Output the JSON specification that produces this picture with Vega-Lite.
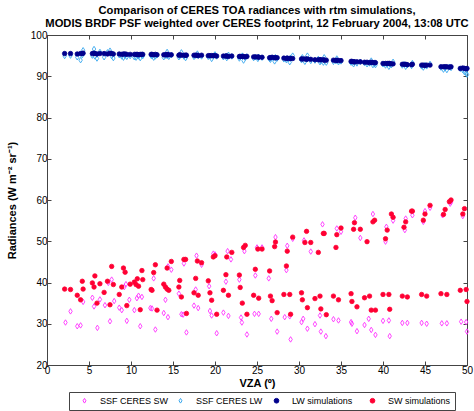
{
"$schema": "https://vega.github.io/schema/vega-lite/v6.json",
"width": 420, "height": 330,
"autosize": {"type": "none"},
"padding": {"left": 47, "top": 35, "right": 7, "bottom": 46},
"title": {"text": ["Comparison of CERES TOA radiances with rtm simulations,", "MODIS BRDF PSF weighted over CERES footprint, 12 February 2004, 13:08 UTC"], "font": "Liberation Sans", "fontSize": 11.2, "fontWeight": "bold", "anchor": "middle", "offset": 1, "lineHeight": 13, "color": "black"},
"config": {"view": {"stroke": "#444", "strokeWidth": 1}, "font": "Liberation Sans",
"legend": {"orient": "none", "legendX": 22, "legendY": 357, "direction": "horizontal", "columns": 4, "title": null, "strokeColor": "#444", "padding": 4, "labelFontSize": 9, "labelFont": "Liberation Sans", "labelColor": "black", "symbolSize": 22, "symbolOffset": 7, "labelOffset": 11, "columnPadding": 0, "gridAlign": "all", "symbolStrokeWidth": 1}},
"data": {"values": [
{"s":"a","x":2.2,"y":30.3},{"s":"a","x":2.8,"y":33.0},{"s":"a","x":3.6,"y":29.4},{"s":"a","x":4.0,"y":29.6},{"s":"a","x":4.3,"y":35.3},{"s":"a","x":5.4,"y":36.3},{"s":"a","x":5.6,"y":34.2},{"s":"a","x":6.0,"y":29.0},{"s":"a","x":6.3,"y":35.9},{"s":"a","x":6.9,"y":34.5},{"s":"a","x":7.3,"y":39.9},{"s":"a","x":7.5,"y":30.6},{"s":"a","x":7.7,"y":40.7},{"s":"a","x":8.0,"y":35.5},{"s":"a","x":8.6,"y":33.9},{"s":"a","x":8.9,"y":33.3},{"s":"a","x":9.2,"y":38.9},{"s":"a","x":9.4,"y":39.6},{"s":"a","x":9.5,"y":30.7},{"s":"a","x":9.8,"y":35.8},{"s":"a","x":10.4,"y":33.3},{"s":"a","x":10.7,"y":36.2},{"s":"a","x":10.9,"y":36.8},{"s":"a","x":11.1,"y":29.4},{"s":"a","x":11.3,"y":36.5},{"s":"a","x":12.3,"y":33.8},{"s":"a","x":12.5,"y":33.7},{"s":"a","x":12.7,"y":41.0},{"s":"a","x":12.9,"y":28.6},{"s":"a","x":13.9,"y":32.6},{"s":"a","x":14.1,"y":35.8},{"s":"a","x":14.4,"y":43.9},{"s":"a","x":14.4,"y":31.6},{"s":"a","x":14.8,"y":43.1},{"s":"a","x":15.7,"y":37.3},{"s":"a","x":16.0,"y":32.3},{"s":"a","x":16.2,"y":32.2},{"s":"a","x":16.3,"y":44.6},{"s":"a","x":16.6,"y":27.9},{"s":"a","x":17.5,"y":34.4},{"s":"a","x":17.7,"y":38.3},{"s":"a","x":17.8,"y":46.5},{"s":"a","x":18.0,"y":33.8},{"s":"a","x":18.4,"y":44.3},{"s":"a","x":19.3,"y":39.1},{"s":"a","x":19.4,"y":33.1},{"s":"a","x":19.6,"y":32.0},{"s":"a","x":19.8,"y":47.0},{"s":"a","x":20.0,"y":46.8},{"s":"a","x":20.2,"y":27.7},{"s":"a","x":21.0,"y":32.7},{"s":"a","x":21.3,"y":40.2},{"s":"a","x":21.5,"y":47.6},{"s":"a","x":21.6,"y":31.9},{"s":"a","x":21.9,"y":45.6},{"s":"a","x":22.9,"y":40.7},{"s":"a","x":23.1,"y":31.5},{"s":"a","x":23.2,"y":30.3},{"s":"a","x":23.5,"y":47.6},{"s":"a","x":23.8,"y":27.4},{"s":"a","x":24.7,"y":32.4},{"s":"a","x":24.8,"y":41.7},{"s":"a","x":25.0,"y":48.5},{"s":"a","x":25.2,"y":32.4},{"s":"a","x":25.6,"y":48.5},{"s":"a","x":26.4,"y":41.0},{"s":"a","x":26.7,"y":31.2},{"s":"a","x":27.2,"y":51.0},{"s":"a","x":27.4,"y":28.1},{"s":"a","x":28.3,"y":31.6},{"s":"a","x":28.5,"y":43.0},{"s":"a","x":28.6,"y":48.9},{"s":"a","x":28.9,"y":31.8},{"s":"a","x":29.0,"y":26.2},{"s":"a","x":29.25,"y":50.6},{"s":"a","x":30.3,"y":30.4},{"s":"a","x":30.5,"y":31.2},{"s":"a","x":30.6,"y":50.2},{"s":"a","x":31.0,"y":28.8},{"s":"a","x":31.4,"y":47.5},{"s":"a","x":31.9,"y":29.9},{"s":"a","x":32.5,"y":32.0},{"s":"a","x":32.6,"y":28.1},{"s":"a","x":32.8,"y":54.1},{"s":"a","x":33.2,"y":27.0},{"s":"a","x":34.1,"y":31.1},{"s":"a","x":34.5,"y":53.1},{"s":"a","x":34.7,"y":30.8},{"s":"a","x":35.0,"y":52.3},{"s":"a","x":36.2,"y":30.4},{"s":"a","x":36.3,"y":30.0},{"s":"a","x":36.7,"y":55.7},{"s":"a","x":36.9,"y":28.2},{"s":"a","x":37.3,"y":50.8},{"s":"a","x":37.8,"y":29.7},{"s":"a","x":38.3,"y":31.2},{"s":"a","x":38.6,"y":28.5},{"s":"a","x":38.8,"y":56.6},{"s":"a","x":39.1,"y":27.3},{"s":"a","x":40.0,"y":30.7},{"s":"a","x":40.3,"y":49.9},{"s":"a","x":40.4,"y":53.5},{"s":"a","x":40.7,"y":30.8},{"s":"a","x":40.8,"y":27.0},{"s":"a","x":41.2,"y":55.0},{"s":"a","x":42.3,"y":30.2},{"s":"a","x":42.6,"y":52.7},{"s":"a","x":42.7,"y":55.5},{"s":"a","x":42.9,"y":30.2},{"s":"a","x":43.5,"y":56.3},{"s":"a","x":44.6,"y":30.2},{"s":"a","x":44.8,"y":54.7},{"s":"a","x":45.0,"y":57.3},{"s":"a","x":45.2,"y":30.0},{"s":"a","x":45.6,"y":58.1},{"s":"a","x":47.0,"y":30.1},{"s":"a","x":47.1,"y":56.3},{"s":"a","x":47.6,"y":30.1},{"s":"a","x":48.0,"y":59.1},{"s":"a","x":48.1,"y":59.5},{"s":"a","x":49.3,"y":30.5},{"s":"a","x":49.5,"y":56.1},{"s":"a","x":49.9,"y":30.4},{"s":"a","x":50.0,"y":28.1},
{"s":"b","x":2.1,"y":94.9},{"s":"b","x":2.8,"y":95.0},{"s":"b","x":3.6,"y":94.6},{"s":"b","x":4.0,"y":93.9},{"s":"b","x":4.2,"y":95.1},{"s":"b","x":4.3,"y":96.3},{"s":"b","x":5.4,"y":95.0},{"s":"b","x":5.6,"y":96.6},{"s":"b","x":5.7,"y":94.8},{"s":"b","x":5.95,"y":94.3},{"s":"b","x":6.3,"y":95.9},{"s":"b","x":6.8,"y":94.6},{"s":"b","x":7.2,"y":95.8},{"s":"b","x":7.5,"y":96.2},{"s":"b","x":7.7,"y":94.9},{"s":"b","x":7.9,"y":94.4},{"s":"b","x":8.6,"y":95.1},{"s":"b","x":8.9,"y":94.8},{"s":"b","x":9.1,"y":94.5},{"s":"b","x":9.3,"y":95.0},{"s":"b","x":9.5,"y":94.7},{"s":"b","x":9.9,"y":94.9},{"s":"b","x":10.4,"y":94.6},{"s":"b","x":10.6,"y":94.5},{"s":"b","x":10.75,"y":95.0},{"s":"b","x":10.9,"y":94.8},{"s":"b","x":11.1,"y":94.4},{"s":"b","x":11.3,"y":95.1},{"s":"b","x":11.4,"y":94.9},{"s":"b","x":12.4,"y":95.0},{"s":"b","x":12.5,"y":94.9},{"s":"b","x":12.7,"y":94.5},{"s":"b","x":12.9,"y":94.8},{"s":"b","x":13.1,"y":95.1},{"s":"b","x":13.9,"y":94.6},{"s":"b","x":14.1,"y":95.0},{"s":"b","x":14.3,"y":95.9},{"s":"b","x":14.3,"y":94.9},{"s":"b","x":14.5,"y":94.7},{"s":"b","x":14.8,"y":95.1},{"s":"b","x":15.7,"y":94.6},{"s":"b","x":15.8,"y":94.9},{"s":"b","x":16.0,"y":95.8},{"s":"b","x":16.3,"y":94.8},{"s":"b","x":16.5,"y":94.4},{"s":"b","x":16.6,"y":95.0},{"s":"b","x":17.5,"y":94.7},{"s":"b","x":17.7,"y":95.0},{"s":"b","x":17.9,"y":95.5},{"s":"b","x":18.0,"y":94.9},{"s":"b","x":18.4,"y":94.8},{"s":"b","x":19.2,"y":94.7},{"s":"b","x":19.4,"y":94.9},{"s":"b","x":19.6,"y":94.2},{"s":"b","x":19.8,"y":94.9},{"s":"b","x":20.0,"y":95.3},{"s":"b","x":20.2,"y":94.8},{"s":"b","x":21.0,"y":94.6},{"s":"b","x":21.3,"y":94.9},{"s":"b","x":21.4,"y":94.4},{"s":"b","x":21.6,"y":95.2},{"s":"b","x":22.0,"y":94.8},{"s":"b","x":22.9,"y":94.3},{"s":"b","x":23.0,"y":94.6},{"s":"b","x":23.25,"y":95.0},{"s":"b","x":23.4,"y":93.8},{"s":"b","x":23.6,"y":94.5},{"s":"b","x":23.8,"y":94.8},{"s":"b","x":24.6,"y":94.4},{"s":"b","x":24.8,"y":94.6},{"s":"b","x":25.1,"y":94.2},{"s":"b","x":25.2,"y":94.7},{"s":"b","x":25.6,"y":94.5},{"s":"b","x":26.5,"y":94.2},{"s":"b","x":26.6,"y":94.0},{"s":"b","x":26.8,"y":94.5},{"s":"b","x":27.1,"y":93.6},{"s":"b","x":27.2,"y":94.6},{"s":"b","x":27.4,"y":94.3},{"s":"b","x":28.2,"y":94.1},{"s":"b","x":28.5,"y":93.9},{"s":"b","x":28.6,"y":94.3},{"s":"b","x":28.9,"y":93.4},{"s":"b","x":29.0,"y":94.5},{"s":"b","x":29.25,"y":95.0},{"s":"b","x":30.3,"y":93.9},{"s":"b","x":30.4,"y":94.6},{"s":"b","x":30.7,"y":93.5},{"s":"b","x":30.9,"y":94.1},{"s":"b","x":31.0,"y":95.0},{"s":"b","x":31.4,"y":93.7},{"s":"b","x":31.9,"y":93.8},{"s":"b","x":32.3,"y":94.2},{"s":"b","x":32.5,"y":93.4},{"s":"b","x":32.6,"y":93.7},{"s":"b","x":32.9,"y":93.3},{"s":"b","x":33.0,"y":94.6},{"s":"b","x":33.25,"y":93.3},{"s":"b","x":34.1,"y":93.5},{"s":"b","x":34.4,"y":93.7},{"s":"b","x":34.5,"y":94.3},{"s":"b","x":34.7,"y":93.4},{"s":"b","x":35.0,"y":93.6},{"s":"b","x":36.2,"y":93.3},{"s":"b","x":36.3,"y":93.5},{"s":"b","x":36.5,"y":92.9},{"s":"b","x":36.6,"y":93.4},{"s":"b","x":36.9,"y":93.1},{"s":"b","x":37.3,"y":93.5},{"s":"b","x":37.8,"y":93.2},{"s":"b","x":38.1,"y":92.9},{"s":"b","x":38.4,"y":93.1},{"s":"b","x":38.6,"y":93.8},{"s":"b","x":38.8,"y":92.7},{"s":"b","x":39.0,"y":93.0},{"s":"b","x":39.1,"y":92.7},{"s":"b","x":40.0,"y":92.9},{"s":"b","x":40.3,"y":92.6},{"s":"b","x":40.5,"y":93.0},{"s":"b","x":40.7,"y":92.3},{"s":"b","x":40.8,"y":92.9},{"s":"b","x":41.0,"y":92.7},{"s":"b","x":41.2,"y":93.5},{"s":"b","x":42.3,"y":92.6},{"s":"b","x":42.5,"y":92.9},{"s":"b","x":42.7,"y":92.3},{"s":"b","x":42.9,"y":92.7},{"s":"b","x":43.4,"y":92.5},{"s":"b","x":43.5,"y":93.2},{"s":"b","x":44.6,"y":92.4},{"s":"b","x":44.8,"y":92.1},{"s":"b","x":45.0,"y":92.7},{"s":"b","x":45.2,"y":92.4},{"s":"b","x":45.6,"y":93.0},{"s":"b","x":46.9,"y":92.1},{"s":"b","x":47.2,"y":91.6},{"s":"b","x":47.4,"y":92.0},{"s":"b","x":47.6,"y":91.5},{"s":"b","x":47.9,"y":92.3},{"s":"b","x":48.1,"y":92.0},{"s":"b","x":49.2,"y":91.8},{"s":"b","x":49.5,"y":91.5},{"s":"b","x":49.7,"y":91.0},{"s":"b","x":49.9,"y":90.8},{"s":"b","x":50.0,"y":90.4},
{"s":"c","x":2.1,"y":95.5},{"s":"c","x":2.8,"y":95.5},{"s":"c","x":3.6,"y":95.4},{"s":"c","x":4.0,"y":95.5},{"s":"c","x":4.2,"y":95.5},{"s":"c","x":4.3,"y":95.6},{"s":"c","x":5.4,"y":95.5},{"s":"c","x":5.6,"y":95.6},{"s":"c","x":5.7,"y":95.5},{"s":"c","x":5.95,"y":95.4},{"s":"c","x":6.3,"y":95.5},{"s":"c","x":6.8,"y":95.5},{"s":"c","x":7.2,"y":95.4},{"s":"c","x":7.5,"y":95.6},{"s":"c","x":7.7,"y":95.5},{"s":"c","x":7.9,"y":95.4},{"s":"c","x":8.6,"y":95.4},{"s":"c","x":8.9,"y":95.3},{"s":"c","x":9.1,"y":95.4},{"s":"c","x":9.3,"y":95.4},{"s":"c","x":9.5,"y":95.3},{"s":"c","x":9.9,"y":95.3},{"s":"c","x":10.4,"y":95.3},{"s":"c","x":10.6,"y":95.3},{"s":"c","x":10.75,"y":95.3},{"s":"c","x":10.9,"y":95.2},{"s":"c","x":11.1,"y":95.3},{"s":"c","x":11.3,"y":95.3},{"s":"c","x":11.4,"y":95.3},{"s":"c","x":12.4,"y":95.3},{"s":"c","x":12.5,"y":95.3},{"s":"c","x":12.7,"y":95.2},{"s":"c","x":12.9,"y":95.3},{"s":"c","x":13.1,"y":95.2},{"s":"c","x":13.9,"y":95.2},{"s":"c","x":14.1,"y":95.2},{"s":"c","x":14.3,"y":95.2},{"s":"c","x":14.3,"y":95.3},{"s":"c","x":14.5,"y":95.2},{"s":"c","x":14.8,"y":95.2},{"s":"c","x":15.7,"y":95.1},{"s":"c","x":15.8,"y":95.2},{"s":"c","x":16.0,"y":95.1},{"s":"c","x":16.3,"y":95.1},{"s":"c","x":16.5,"y":95.1},{"s":"c","x":16.6,"y":95.1},{"s":"c","x":17.5,"y":95.1},{"s":"c","x":17.7,"y":95.1},{"s":"c","x":17.9,"y":95.1},{"s":"c","x":18.0,"y":95.0},{"s":"c","x":18.4,"y":95.1},{"s":"c","x":19.2,"y":95.0},{"s":"c","x":19.4,"y":95.0},{"s":"c","x":19.6,"y":95.0},{"s":"c","x":19.8,"y":95.0},{"s":"c","x":20.0,"y":95.0},{"s":"c","x":20.2,"y":94.9},{"s":"c","x":21.0,"y":94.9},{"s":"c","x":21.3,"y":94.9},{"s":"c","x":21.4,"y":94.9},{"s":"c","x":21.6,"y":94.8},{"s":"c","x":22.0,"y":94.9},{"s":"c","x":22.9,"y":94.8},{"s":"c","x":23.0,"y":94.8},{"s":"c","x":23.25,"y":94.8},{"s":"c","x":23.4,"y":94.8},{"s":"c","x":23.6,"y":94.7},{"s":"c","x":23.8,"y":94.8},{"s":"c","x":24.6,"y":94.7},{"s":"c","x":24.8,"y":94.7},{"s":"c","x":25.1,"y":94.7},{"s":"c","x":25.2,"y":94.6},{"s":"c","x":25.6,"y":94.6},{"s":"c","x":26.5,"y":94.5},{"s":"c","x":26.6,"y":94.5},{"s":"c","x":26.8,"y":94.6},{"s":"c","x":27.1,"y":94.5},{"s":"c","x":27.2,"y":94.5},{"s":"c","x":27.4,"y":94.5},{"s":"c","x":28.2,"y":94.4},{"s":"c","x":28.5,"y":94.3},{"s":"c","x":28.6,"y":94.4},{"s":"c","x":28.9,"y":94.3},{"s":"c","x":29.0,"y":94.3},{"s":"c","x":29.25,"y":94.3},{"s":"c","x":30.3,"y":94.2},{"s":"c","x":30.4,"y":94.2},{"s":"c","x":30.7,"y":94.2},{"s":"c","x":30.9,"y":94.1},{"s":"c","x":31.0,"y":94.2},{"s":"c","x":31.4,"y":94.1},{"s":"c","x":31.9,"y":94.0},{"s":"c","x":32.3,"y":94.0},{"s":"c","x":32.5,"y":94.0},{"s":"c","x":32.6,"y":94.0},{"s":"c","x":32.9,"y":94.0},{"s":"c","x":33.0,"y":93.9},{"s":"c","x":33.25,"y":93.9},{"s":"c","x":34.1,"y":93.9},{"s":"c","x":34.4,"y":93.8},{"s":"c","x":34.5,"y":93.9},{"s":"c","x":34.7,"y":93.8},{"s":"c","x":35.0,"y":93.8},{"s":"c","x":36.2,"y":93.6},{"s":"c","x":36.3,"y":93.6},{"s":"c","x":36.5,"y":93.5},{"s":"c","x":36.6,"y":93.5},{"s":"c","x":36.9,"y":93.5},{"s":"c","x":37.3,"y":93.5},{"s":"c","x":37.8,"y":93.4},{"s":"c","x":38.1,"y":93.4},{"s":"c","x":38.4,"y":93.3},{"s":"c","x":38.6,"y":93.4},{"s":"c","x":38.8,"y":93.3},{"s":"c","x":39.0,"y":93.3},{"s":"c","x":39.1,"y":93.3},{"s":"c","x":40.0,"y":93.1},{"s":"c","x":40.3,"y":93.1},{"s":"c","x":40.5,"y":93.1},{"s":"c","x":40.7,"y":93.1},{"s":"c","x":40.8,"y":93.1},{"s":"c","x":41.0,"y":93.0},{"s":"c","x":41.2,"y":93.0},{"s":"c","x":42.3,"y":92.9},{"s":"c","x":42.5,"y":92.9},{"s":"c","x":42.7,"y":92.9},{"s":"c","x":42.9,"y":92.8},{"s":"c","x":43.4,"y":92.8},{"s":"c","x":43.5,"y":92.9},{"s":"c","x":44.6,"y":92.7},{"s":"c","x":44.8,"y":92.7},{"s":"c","x":45.0,"y":92.6},{"s":"c","x":45.2,"y":92.7},{"s":"c","x":45.6,"y":92.7},{"s":"c","x":46.9,"y":92.3},{"s":"c","x":47.2,"y":92.3},{"s":"c","x":47.4,"y":92.3},{"s":"c","x":47.6,"y":92.3},{"s":"c","x":47.9,"y":92.2},{"s":"c","x":48.1,"y":92.3},{"s":"c","x":49.2,"y":91.9},{"s":"c","x":49.5,"y":92.0},{"s":"c","x":49.7,"y":91.9},{"s":"c","x":49.9,"y":91.8},{"s":"c","x":50.0,"y":91.9},
{"s":"d","x":2.1,"y":38.4},{"s":"d","x":2.8,"y":38.3},{"s":"d","x":3.6,"y":36.9},{"s":"d","x":4.0,"y":35.8},{"s":"d","x":4.2,"y":40.3},{"s":"d","x":4.3,"y":38.4},{"s":"d","x":5.4,"y":39.9},{"s":"d","x":5.6,"y":38.9},{"s":"d","x":5.7,"y":41.6},{"s":"d","x":5.95,"y":35.0},{"s":"d","x":6.3,"y":39.7},{"s":"d","x":6.8,"y":37.6},{"s":"d","x":7.2,"y":40.3},{"s":"d","x":7.5,"y":34.6},{"s":"d","x":7.7,"y":43.9},{"s":"d","x":7.9,"y":39.5},{"s":"d","x":8.6,"y":37.1},{"s":"d","x":8.9,"y":38.9},{"s":"d","x":9.1,"y":43.5},{"s":"d","x":9.3,"y":42.5},{"s":"d","x":9.5,"y":34.4},{"s":"d","x":9.9,"y":39.6},{"s":"d","x":10.4,"y":40.1},{"s":"d","x":10.6,"y":39.5},{"s":"d","x":10.75,"y":40.9},{"s":"d","x":10.9,"y":39.1},{"s":"d","x":11.1,"y":33.4},{"s":"d","x":11.3,"y":42.9},{"s":"d","x":11.4,"y":40.7},{"s":"d","x":12.4,"y":38.3},{"s":"d","x":12.5,"y":38.1},{"s":"d","x":12.7,"y":42.4},{"s":"d","x":12.9,"y":44.3},{"s":"d","x":13.1,"y":33.3},{"s":"d","x":13.9,"y":39.6},{"s":"d","x":14.1,"y":38.9},{"s":"d","x":14.3,"y":43.5},{"s":"d","x":14.3,"y":38.4},{"s":"d","x":14.5,"y":38.1},{"s":"d","x":14.8,"y":45.1},{"s":"d","x":15.7,"y":38.9},{"s":"d","x":15.8,"y":40.5},{"s":"d","x":16.0,"y":36.5},{"s":"d","x":16.3,"y":45.6},{"s":"d","x":16.5,"y":45.6},{"s":"d","x":16.6,"y":32.5},{"s":"d","x":17.5,"y":37.5},{"s":"d","x":17.7,"y":41.0},{"s":"d","x":17.9,"y":45.2},{"s":"d","x":18.0,"y":36.9},{"s":"d","x":18.4,"y":44.8},{"s":"d","x":19.2,"y":40.4},{"s":"d","x":19.4,"y":37.5},{"s":"d","x":19.6,"y":35.7},{"s":"d","x":19.8,"y":46.2},{"s":"d","x":20.0,"y":46.5},{"s":"d","x":20.2,"y":32.3},{"s":"d","x":21.0,"y":38.1},{"s":"d","x":21.3,"y":41.9},{"s":"d","x":21.4,"y":46.2},{"s":"d","x":21.6,"y":36.9},{"s":"d","x":22.0,"y":47.3},{"s":"d","x":22.9,"y":41.8},{"s":"d","x":23.0,"y":38.8},{"s":"d","x":23.25,"y":35.0},{"s":"d","x":23.4,"y":48.5},{"s":"d","x":23.6,"y":49.0},{"s":"d","x":23.8,"y":32.3},{"s":"d","x":24.6,"y":36.9},{"s":"d","x":24.8,"y":43.2},{"s":"d","x":25.1,"y":48.1},{"s":"d","x":25.2,"y":36.2},{"s":"d","x":25.6,"y":48.1},{"s":"d","x":26.5,"y":42.8},{"s":"d","x":26.6,"y":36.7},{"s":"d","x":26.8,"y":35.6},{"s":"d","x":27.1,"y":48.7},{"s":"d","x":27.2,"y":49.8},{"s":"d","x":27.4,"y":32.7},{"s":"d","x":28.2,"y":37.1},{"s":"d","x":28.5,"y":44.0},{"s":"d","x":28.6,"y":47.6},{"s":"d","x":28.9,"y":37.1},{"s":"d","x":29.0,"y":32.3},{"s":"d","x":29.25,"y":51.0},{"s":"d","x":30.3,"y":37.5},{"s":"d","x":30.4,"y":35.8},{"s":"d","x":30.7,"y":49.7},{"s":"d","x":30.9,"y":52.4},{"s":"d","x":31.0,"y":33.9},{"s":"d","x":31.4,"y":49.7},{"s":"d","x":31.9,"y":36.1},{"s":"d","x":32.3,"y":47.3},{"s":"d","x":32.5,"y":36.7},{"s":"d","x":32.6,"y":33.6},{"s":"d","x":32.9,"y":51.9},{"s":"d","x":33.0,"y":51.9},{"s":"d","x":33.25,"y":32.2},{"s":"d","x":34.1,"y":36.7},{"s":"d","x":34.4,"y":48.5},{"s":"d","x":34.5,"y":51.6},{"s":"d","x":34.7,"y":35.8},{"s":"d","x":35.0,"y":53.2},{"s":"d","x":36.2,"y":37.3},{"s":"d","x":36.3,"y":35.4},{"s":"d","x":36.5,"y":52.9},{"s":"d","x":36.6,"y":54.5},{"s":"d","x":36.9,"y":34.1},{"s":"d","x":37.3,"y":52.9},{"s":"d","x":37.8,"y":36.3},{"s":"d","x":38.1,"y":49.9},{"s":"d","x":38.4,"y":36.7},{"s":"d","x":38.6,"y":33.3},{"s":"d","x":38.8,"y":54.7},{"s":"d","x":39.0,"y":55.1},{"s":"d","x":39.1,"y":33.3},{"s":"d","x":40.0,"y":37.1},{"s":"d","x":40.3,"y":50.6},{"s":"d","x":40.5,"y":52.7},{"s":"d","x":40.7,"y":37.1},{"s":"d","x":40.8,"y":33.5},{"s":"d","x":41.0,"y":56.6},{"s":"d","x":41.2,"y":55.8},{"s":"d","x":42.3,"y":36.7},{"s":"d","x":42.5,"y":53.4},{"s":"d","x":42.7,"y":54.7},{"s":"d","x":42.9,"y":36.5},{"s":"d","x":43.4,"y":57.3},{"s":"d","x":43.5,"y":57.3},{"s":"d","x":44.6,"y":37.1},{"s":"d","x":44.8,"y":55.1},{"s":"d","x":45.0,"y":56.6},{"s":"d","x":45.2,"y":36.7},{"s":"d","x":45.6,"y":58.7},{"s":"d","x":46.9,"y":37.3},{"s":"d","x":47.2,"y":56.5},{"s":"d","x":47.4,"y":57.7},{"s":"d","x":47.6,"y":37.1},{"s":"d","x":47.9,"y":59.6},{"s":"d","x":48.1,"y":60.0},{"s":"d","x":49.2,"y":38.1},{"s":"d","x":49.5,"y":56.6},{"s":"d","x":49.7,"y":57.9},{"s":"d","x":49.9,"y":38.3},{"s":"d","x":50.0,"y":35.4}
]},
"encoding": {
"shape": {"field": "s", "type": "nominal", "scale": {"domain": ["a","b","c","d"], "range": ["M0,-1L0.62,0L0,1L-0.62,0Z", "M0,-1L0.62,0L0,1L-0.62,0Z", "circle", "circle"]}, "legend": {"labelExpr": "{'a':'SSF CERES SW','b':'SSF CERES LW','c':'LW simulations','d':'SW simulations'}[datum.label]"}},
"stroke": {"field": "s", "type": "nominal", "scale": {"domain": ["a","b","c","d"], "range": ["#ff33ff", "#3aa8ee", "#00008c", "#ff0033"]}, "legend": {"labelExpr": "{'a':'SSF CERES SW','b':'SSF CERES LW','c':'LW simulations','d':'SW simulations'}[datum.label]"}},
"fill": {"field": "s", "type": "nominal", "scale": {"domain": ["a","b","c","d"], "range": ["transparent", "transparent", "#00008c", "#ff0033"]}, "legend": {"labelExpr": "{'a':'SSF CERES SW','b':'SSF CERES LW','c':'LW simulations','d':'SW simulations'}[datum.label]"}}
},
"layer": [
{
"transform": [{"filter": "datum.s == 'a' || datum.s == 'b'"}],
"mark": {"type": "point", "size": 30, "strokeWidth": 0.9, "opacity": 1, "clip": false},
"encoding": {
"x": {"field": "x", "type": "quantitative", "scale": {"domain": [0, 50], "nice": false, "zero": false}, "axis": {"title": "VZA (º)", "values": [0,5,10,15,20,25,30,35,40,45,50], "tickSize": -4, "tickColor": "#444", "domainColor": "#444", "labelPadding": 4, "labelFontSize": 10, "labelColor": "black", "labelFont": "Liberation Sans", "titleFont": "Liberation Sans", "titleFontSize": 11, "titleFontWeight": "bold", "titleColor": "black", "titlePadding": 2, "grid": false, "labelFlush": false}},
"y": {"field": "y", "type": "quantitative", "scale": {"domain": [20, 100], "nice": false, "zero": false}, "axis": {"title": "Radiances (W m⁻² sr⁻¹)", "values": [20,30,40,50,60,70,80,90,100], "tickSize": -4, "tickColor": "#444", "domainColor": "#444", "labelPadding": 4, "labelFontSize": 10, "labelColor": "black", "labelFont": "Liberation Sans", "titleFont": "Liberation Sans", "titleFontSize": 11, "titleFontWeight": "bold", "titleColor": "black", "titlePadding": 13, "grid": false, "labelFlush": false}}
}
},
{
"transform": [{"filter": "datum.s == 'c' || datum.s == 'd'"}],
"mark": {"type": "point", "size": 20, "strokeWidth": 0.8, "opacity": 1, "clip": false},
"encoding": {
"x": {"field": "x", "type": "quantitative", "axis": {"orient": "top", "title": null, "labels": false, "values": [0,5,10,15,20,25,30,35,40,45,50], "tickSize": -4, "tickColor": "#444", "domain": false, "grid": false}},
"y": {"field": "y", "type": "quantitative", "axis": {"orient": "right", "title": null, "labels": false, "values": [20,30,40,50,60,70,80,90,100], "tickSize": -4, "tickColor": "#444", "domain": false, "grid": false}}
}
}
],
"resolve": {"axis": {"x": "independent", "y": "independent"}}
}
